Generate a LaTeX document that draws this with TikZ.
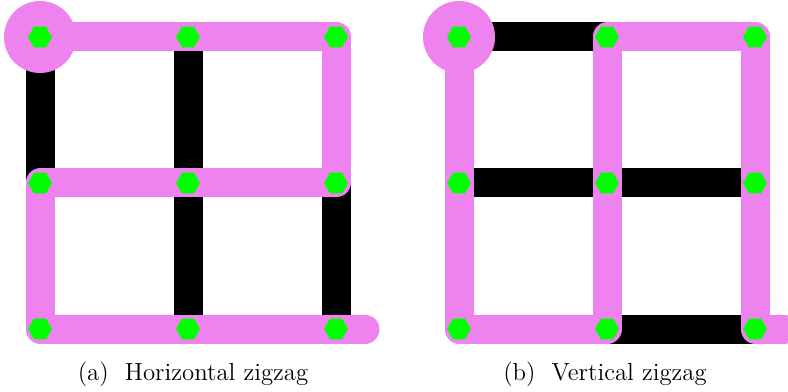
\documentclass[tikz,border=0pt]{standalone}
\usepackage{tikz}
\usetikzlibrary{shapes.geometric,positioning}
\definecolor{snakepink}{RGB}{238,130,238}
\definecolor{vertgreen}{RGB}{0,255,0}
\tikzset{
  gridedge/.style={line width=0.58cm, draw=black},
  snake/.style={line width=0.58cm, draw=snakepink, line join=round, line cap=round},
  startdot/.style={circle, fill=snakepink, minimum size=1.44cm, inner sep=0pt},
  vertex/.style={regular polygon, regular polygon sides=6, fill=vertgreen,
    minimum size=0.48cm, inner sep=0pt},
  subcap/.style={font=\fontsize{14.1}{16}\selectfont, anchor=base},
}

\begin{document}
\begin{tikzpicture}
  \useasboundingbox (0,0) rectangle (15.76,7.82);
  % grid points of both panels
  \foreach \g/\x in {a/0.8, b/9.18} {
    \foreach \i in {0,1,2} {
      \foreach \j in {0,1,2} {
        \coordinate (\g-\i\j) at (\x+2.96*\i, 7.08-2.92*\j);
      }
    }
  }
  \foreach \g in {a,b} {
    \foreach \i/\k in {0/1,1/2} {
      \foreach \j in {0,1,2} {
        \draw[gridedge] (\g-\i\j) -- (\g-\k\j);
        \draw[gridedge] (\g-\j\i) -- (\g-\j\k);
      }
    }
  }
  \coordinate[right=0.58cm of a-22] (a-end);
  \coordinate[right=0.58cm of b-22] (b-end);
  \draw[snake] (a-00) -- (a-20) -- (a-21) -- (a-01) -- (a-02) -- (a-22) -- (a-end);
  \draw[snake] (b-00) -- (b-02) -- (b-12) -- (b-10) -- (b-20) -- (b-22) -- (b-end);
  \node[startdot] (a-start) at (a-00) {};
  \node[startdot] (b-start) at (b-00) {};
  \foreach \g in {a,b} {
    \foreach \i in {0,1,2} {
      \foreach \j in {0,1,2} {
        \node[vertex] (\g-v\i\j) at (\g-\i\j) {};
      }
    }
  }
  \node[subcap] (a-cap) at (3.86,0.22) {(a)\hspace{0.65em}Horizontal zigzag};
  \node[subcap] (b-cap) at (12.1,0.22) {(b)\hspace{0.65em}Vertical zigzag};
\end{tikzpicture}
\end{document}
